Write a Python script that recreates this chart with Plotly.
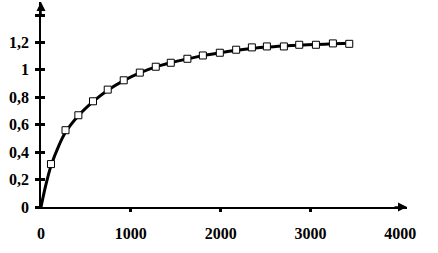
import plotly.graph_objects as go

# measured points (markers)
pts_x = [111, 273, 416, 579, 743, 921, 1100, 1278, 1445, 1630, 1802, 1991,
         2173, 2348, 2515, 2704, 2875, 3061, 3250, 3432]
pts_y = [0.313, 0.56, 0.669, 0.771, 0.856, 0.924, 0.98, 1.023, 1.052, 1.081,
         1.105, 1.125, 1.147, 1.164, 1.171, 1.171, 1.183, 1.183, 1.193, 1.19]

# fitted curve
curve_x = [0, 50, 111, 200, 273, 416, 579, 743, 921, 1100, 1278, 1445, 1630,
           1802, 1991, 2173, 2348, 2515, 2704, 2875, 3061, 3250, 3470]
curve_y = [0, 0.15, 0.30, 0.45, 0.545, 0.665, 0.768, 0.852, 0.922, 0.978,
           1.022, 1.052, 1.08, 1.104, 1.125, 1.143, 1.156, 1.166, 1.174,
           1.18, 1.185, 1.19, 1.195]

x_ticks = [0, 1000, 2000, 3000, 4000]
x_ticktext = ["0", "1000", "2000", "3000", "4000"]
x_minor_ticks = [1000, 2000, 3000]
y_ticks = [0, 0.2, 0.4, 0.6, 0.8, 1.0, 1.2, 1.4]
y_ticktext = ["0", "0,2", "0,4", "0,6", "0,8", "1", "1,2", ""]

tf = dict(family="Liberation Serif", size=16, color="black", weight="bold")

fig = go.Figure()
fig.add_trace(go.Scatter(x=curve_x, y=curve_y, mode="lines",
                         line=dict(color="black", width=3, shape="spline", smoothing=0.8),
                         hoverinfo="skip", showlegend=False))
fig.add_trace(go.Scatter(x=pts_x, y=pts_y, mode="markers",
                         marker=dict(symbol="square", size=7, color="white",
                                     line=dict(color="black", width=1)),
                         showlegend=False))
# dummy trace to activate overlay axes
fig.add_trace(go.Scatter(x=[0], y=[0], xaxis="x2", yaxis="y2", mode="markers",
                         marker=dict(opacity=0), showlegend=False, hoverinfo="skip"))

XR = [0, 4075]
YR = [0, 1.495]
fig.update_layout(
    width=438, height=253,
    margin=dict(l=41, r=31, t=2, b=46),
    paper_bgcolor="white", plot_bgcolor="white",
    xaxis=dict(range=XR, tickvals=x_ticks, ticktext=x_ticktext, ticks="",
               showgrid=False, zeroline=False, showline=True, linecolor="black",
               linewidth=1.5, tickfont=tf, ticklabelstandoff=11, fixedrange=True),
    yaxis=dict(range=YR, tickvals=y_ticks, ticktext=y_ticktext, ticks="outside",
               ticklen=4, tickwidth=2.5, tickcolor="black",
               showgrid=False, zeroline=False, showline=True, linecolor="black",
               linewidth=1.5, tickfont=tf, ticklabelstandoff=3, fixedrange=True),
    xaxis2=dict(range=XR, overlaying="x", anchor="y", side="bottom",
                tickvals=x_minor_ticks, ticks="outside", ticklen=4, tickwidth=2.5,
                tickcolor="black", showticklabels=False, showgrid=False,
                zeroline=False, showline=False, fixedrange=True),
    yaxis2=dict(range=YR, overlaying="y", anchor="x", side="left",
                tickvals=y_ticks, ticks="inside", ticklen=4, tickwidth=2.5,
                tickcolor="black", showticklabels=False, showgrid=False,
                zeroline=False, showline=False, fixedrange=True),
    annotations=[
        dict(xref="paper", yref="paper", x=0, y=1, ax=0, ay=14,
             showarrow=True, arrowhead=2, arrowsize=1.2, arrowwidth=1.5,
             arrowcolor="black", text=""),
        dict(xref="paper", yref="paper", x=1, y=0, ax=-14, ay=0,
             showarrow=True, arrowhead=2, arrowsize=1.2, arrowwidth=1.5,
             arrowcolor="black", text=""),
    ],
)
fig.write_html("out.html")
